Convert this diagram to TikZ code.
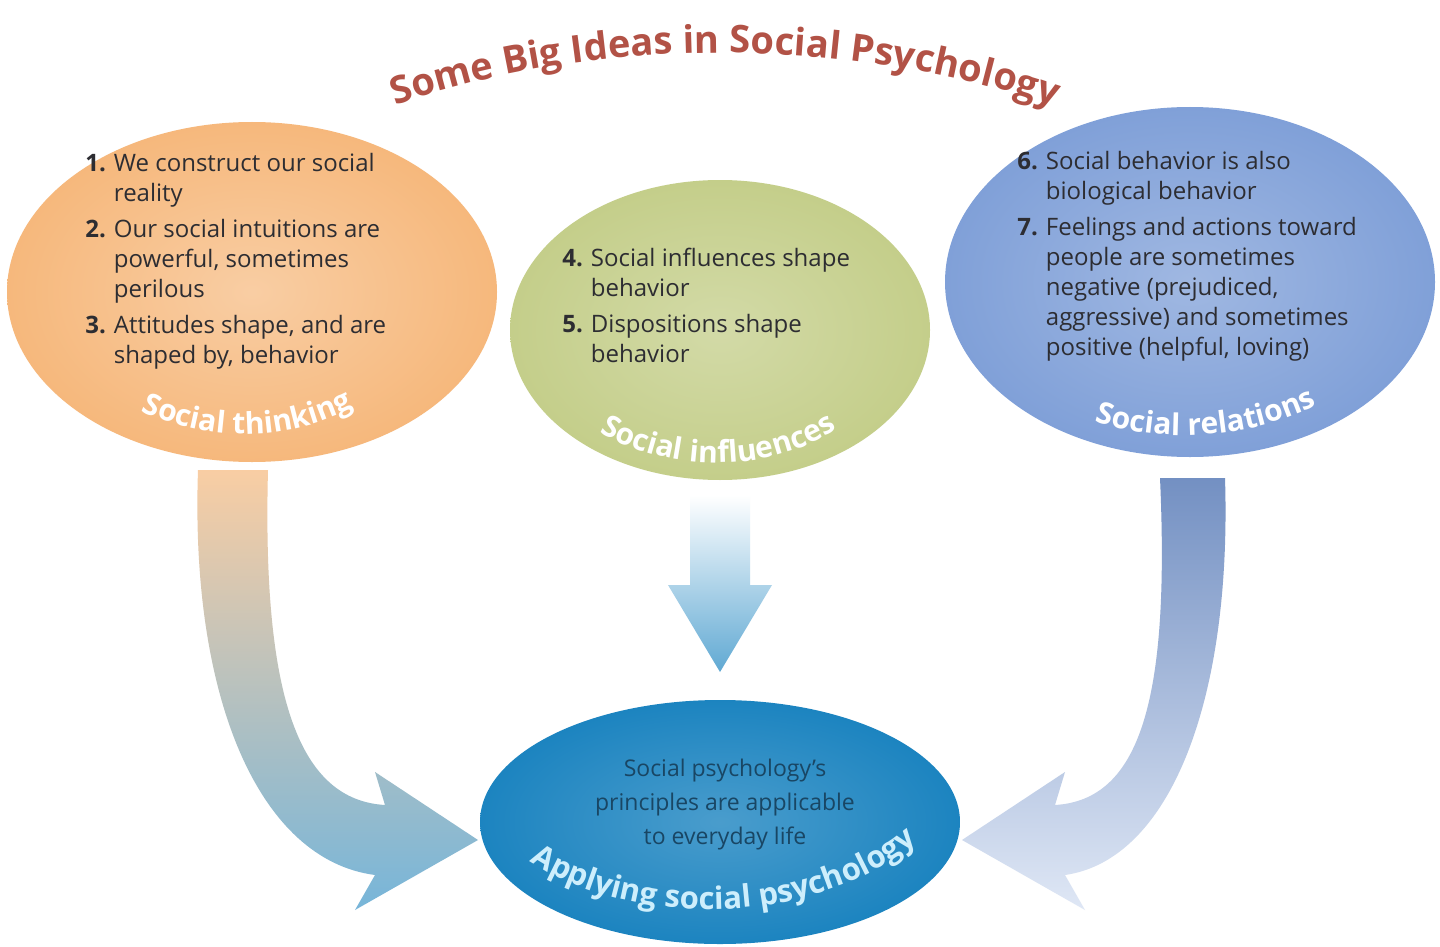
\documentclass[tikz,border=0pt]{standalone}
\usepackage{fontspec}
\setmainfont{Open Sans}
\usepackage{xcolor}
\usetikzlibrary{shapes.geometric,decorations.text}

\definecolor{titlered}{RGB}{178,82,70}
\definecolor{thinkfill}{RGB}{246,184,124}
\definecolor{inflfill}{RGB}{196,206,138}
\definecolor{relfill}{RGB}{128,160,216}
\definecolor{applyfill}{RGB}{28,132,192}
\definecolor{bodytext}{RGB}{45,45,50}
\definecolor{applytext}{RGB}{25,70,100}
\definecolor{applylabel}{RGB}{205,238,252}

\tikzset{
  bubble/.style={ellipse, inner sep=0pt},
  listtext/.style={anchor=north west, inner sep=0pt, text=bodytext, font=\fontsize{12}{15}\selectfont},
  curvedlabel/.style={decorate, decoration={text along path, text align=center, text={#1}}}
}

\begin{document}
\begin{tikzpicture}[x=0.5pt,y=0.5pt,yscale=-1]
\useasboundingbox (0,0) rectangle (1440,947);
\fill[white] (0,0) rectangle (1440,947);

%Arrows
\shade[top color=thinkfill!70, bottom color=applyfill!60!white, shading angle=0]
  (198,470) .. controls (190,700) and (260,860) .. (375,875) -- (355,910) -- (478,840)
  -- (375,772) -- (385,805) .. controls (300,800) and (262,700) .. (268,470) -- cycle;
\shade[top color=white, bottom color=applyfill!70!white]
  (690,495) -- (750,495) -- (750,585) -- (772,585) -- (720,672) -- (668,585) -- (690,585) -- cycle;
\shade[top color=relfill!90!black, bottom color=relfill!25!white]
  (1225,478) .. controls (1232,700) and (1170,860) .. (1065,875) -- (1085,910) -- (962,840)
  -- (1065,772) -- (1055,805) .. controls (1140,800) and (1170,700) .. (1160,478) -- cycle;

%Bubbles
\node[bubble, inner color=thinkfill!70!white, outer color=thinkfill, minimum width=245pt, minimum height=170pt] (thinking) at (252,292) {};
\node[bubble, inner color=inflfill!75!white, outer color=inflfill, minimum width=210pt, minimum height=150pt] (influences) at (720,330) {};
\node[bubble, inner color=relfill!75!white, outer color=relfill, minimum width=245pt, minimum height=175pt] (relations) at (1190,282) {};
\node[bubble, inner color=applyfill!80!white, outer color=applyfill, minimum width=240pt, minimum height=122pt] (applying) at (720,822) {};

% Title
\path[curvedlabel={|\color{titlered}\bfseries\fontsize{19}{22}\selectfont|Some Big Ideas in Social Psychology}]
  (340,128) .. controls (560,28) and (880,28) .. (1110,128);

% Text Node
\node[listtext] (thinklist) at (85,150) {\begin{tabular}{@{}r@{\hspace{4pt}}l@{}}
\textbf{1.} & We construct our social\\ & reality\\[3pt]
\textbf{2.} & Our social intuitions are\\ & powerful, sometimes\\ & perilous\\[3pt]
\textbf{3.} & Attitudes shape, and are\\ & shaped by, behavior
\end{tabular}};
% Text Node
\node[listtext] (infllist) at (562,245) {\begin{tabular}{@{}r@{\hspace{4pt}}l@{}}
\textbf{4.} & Social influences shape\\ & behavior\\[3pt]
\textbf{5.} & Dispositions shape\\ & behavior
\end{tabular}};
% Text Node
\node[listtext] (rellist) at (1017,148) {\begin{tabular}{@{}r@{\hspace{4pt}}l@{}}
\textbf{6.} & Social behavior is also\\ & biological behavior\\[3pt]
\textbf{7.} & Feelings and actions toward\\ & people are sometimes\\ & negative (prejudiced,\\ & aggressive) and sometimes\\ & positive (helpful, loving)
\end{tabular}};
% Text Node
\node[text=applytext, align=center, font=\fontsize{11.5}{17}\selectfont] (applytext) at (725,805)
  {Social psychology's\\principles are applicable\\to everyday life};

% Curved labels
\path[curvedlabel={|\color{white}\bfseries\fontsize{15}{17}\selectfont|Social thinking}]
  (112,395) .. controls (195,448) and (300,448) .. (382,390);
\path[curvedlabel={|\color{white}\bfseries\fontsize{15}{17}\selectfont|Social influences}]
  (565,408) .. controls (650,482) and (790,482) .. (870,403);
\path[curvedlabel={|\color{white}\bfseries\fontsize{15}{17}\selectfont|Social relations}]
  (1066,410) .. controls (1150,450) and (1262,442) .. (1344,390);
\path[curvedlabel={|\color{applylabel}\bfseries\fontsize{15.5}{17}\selectfont|Applying social psychology}]
  (492,828) .. controls (590,940) and (850,940) .. (952,806);

\end{tikzpicture}
\end{document}
